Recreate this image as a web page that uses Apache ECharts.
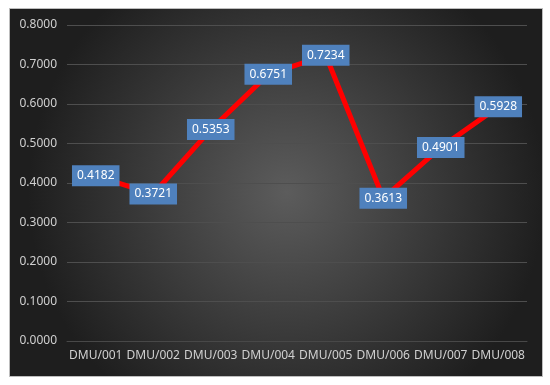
<!DOCTYPE html>
<html>
<head>
<meta charset="utf-8">
<script src="https://cdn.jsdelivr.net/npm/echarts@6/dist/echarts.min.js"></script>
<style>html,body{margin:0;padding:0;background:#fff;}#c{width:550px;height:385px;}</style>
</head>
<body>
<div id="c"></div>
<script>
var categories = ['DMU/001','DMU/002','DMU/003','DMU/004','DMU/005','DMU/006','DMU/007','DMU/008'];
var values = [0.4182, 0.3721, 0.5353, 0.6751, 0.7234, 0.3613, 0.4901, 0.5928];
var yTicks = {min: 0, max: 0.8, interval: 0.1};

var chart = echarts.init(document.getElementById('c'));
chart.setOption({
  animation: false,
  backgroundColor: '#ffffff',
  graphic: [{
    type: 'rect',
    left: 9, top: 8, z: -10,
    shape: {width: 533, height: 368},
    style: {
      fill: new echarts.graphic.RadialGradient(0.52, 0.5, 0.7, [
        {offset: 0, color: '#5c5c5c'},
        {offset: 1, color: '#1e1e1e'}
      ]),
      stroke: '#bdbdbd', lineWidth: 1
    }
  }],
  grid: {left: 67, right: 23, top: 25, bottom: 44},
  xAxis: {
    type: 'category',
    data: categories,
    boundaryGap: true,
    axisLine: {show: true, lineStyle: {color: '#484848'}},
    axisTick: {show: false},
    axisLabel: {color: '#d0d0d0', fontSize: 12, fontFamily: 'Noto Sans', margin: 9, interval: 0}
  },
  yAxis: {
    type: 'value',
    min: yTicks.min, max: yTicks.max, interval: yTicks.interval,
    axisLine: {show: false},
    axisTick: {show: false},
    splitLine: {lineStyle: {color: '#4e4e4e', width: 1}},
    axisLabel: {
      color: '#d0d0d0', fontSize: 12, fontFamily: 'Noto Sans', margin: 10,
      formatter: function (v) { return v.toFixed(4); }
    }
  },
  series: [{
    type: 'line',
    data: values,
    symbol: 'circle',
    symbolSize: 1,
    itemStyle: {color: '#ff0000'},
    lineStyle: {color: '#ff0000', width: 5},
    label: {
      show: true,
      position: 'inside',
      color: '#ffffff',
      fontSize: 12,
      fontFamily: 'Noto Sans',
      backgroundColor: '#4f81bd',
      padding: [5, 5, 4, 5],
      formatter: function (p) { return p.value.toFixed(4); }
    }
  }]
});
</script>
</body>
</html>
